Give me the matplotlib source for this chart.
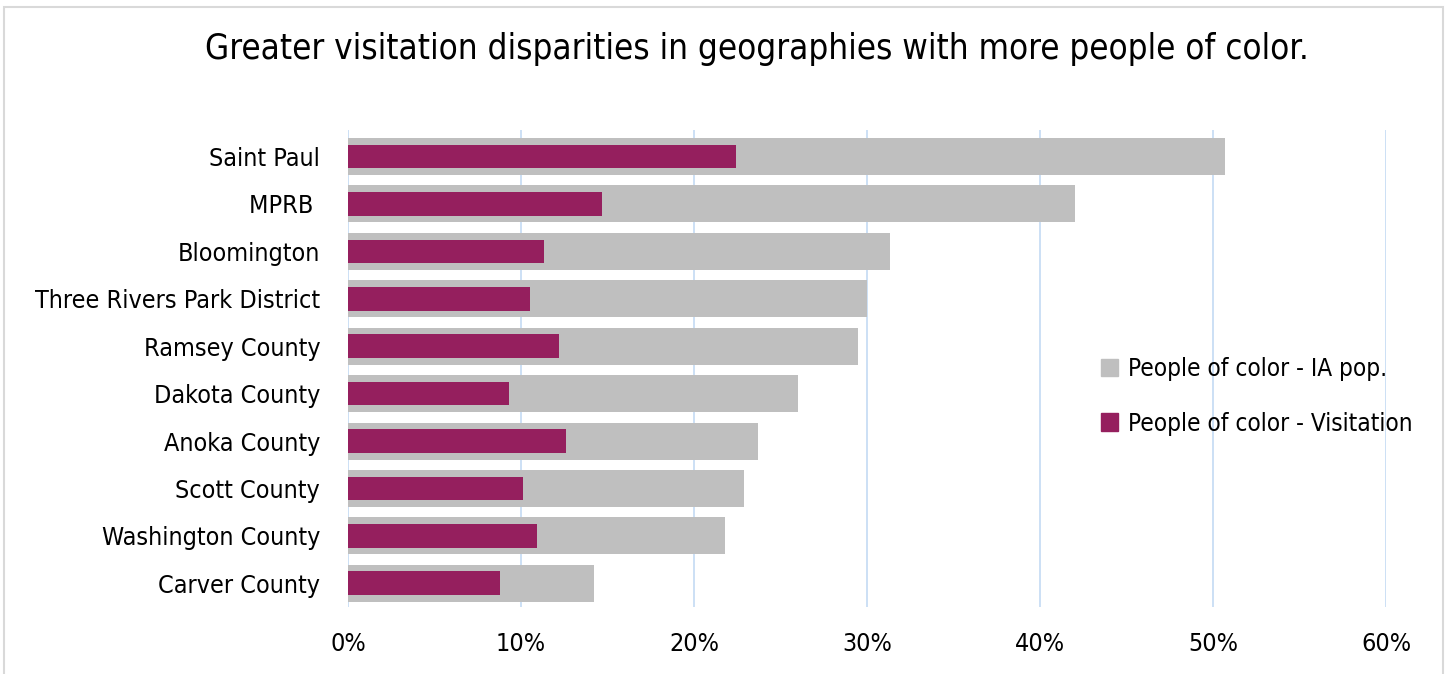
import matplotlib.pyplot as plt
from matplotlib import font_manager
from matplotlib.patches import Rectangle, Patch
from matplotlib.ticker import PercentFormatter

# categories, top to bottom
places = ['Saint Paul', 'MPRB ', 'Bloomington', 'Three Rivers Park District',
          'Ramsey County', 'Dakota County', 'Anoka County', 'Scott County',
          'Washington County', 'Carver County']
ia_pop = [50.7, 42.0, 31.3, 30.0, 29.5, 26.0, 23.7, 22.9, 21.8, 14.2]
visitation = [22.4, 14.7, 11.3, 10.5, 12.2, 9.3, 12.6, 10.1, 10.9, 8.8]

# use a condensed face if one is there
found = font_manager.findfont(font_manager.FontProperties(family='DejaVu Sans', stretch='condensed'))
plt.rcParams['font.family'] = ['DejaVu Sans']
if 'Condensed' in found:
    plt.rcParams['font.stretch'] = 'condensed'
    fs = 18
else:
    fs = 16

fig = plt.figure(figsize=(14.47, 6.74), dpi=100)
ax = fig.add_axes([0.2405, 0.0994, 0.7175, 0.707])

pos = list(range(len(places)))
ax.barh(pos, ia_pop, height=0.78, color='#BFBFBF', zorder=2)
ax.barh(pos, visitation, height=0.5, color='#951F5E', zorder=3)

ax.set_yticks(pos)
ax.set_yticklabels(places, fontsize=fs)
ax.set_ylim(len(places) - 0.5, -0.55)
ax.set_xlim(0, 60)
ax.set_xticks(range(0, 61, 10))
ax.xaxis.set_major_formatter(PercentFormatter(decimals=0))
ax.tick_params(axis='x', labelsize=fs, length=0, pad=18)
ax.tick_params(axis='y', length=0, pad=20)
ax.grid(axis='x', color='#C3DAF3', linewidth=1.2, zorder=0)
for s in ax.spines.values():
    s.set_visible(False)

fig.text(0.523, 0.928, 'Greater visitation disparities in geographies with more people of color.',
         ha='center', va='center', fontsize=fs + 7)

handles = [Patch(color='#BFBFBF', label='People of color - IA pop.'),
           Patch(color='#951F5E', label='People of color - Visitation')]
leg = fig.legend(handles=handles, loc='center left', bbox_to_anchor=(0.746, 0.412),
                 frameon=False, fontsize=fs - 0.5, handlelength=0.7, handleheight=0.7,
                 handletextpad=0.4, labelspacing=1.25)

fig.patches.append(Rectangle((0.003, -0.01), 0.994, 1.0, transform=fig.transFigure,
                             fill=False, edgecolor='#D9D9D9', linewidth=1.5))

fig.savefig('out.png', dpi=100)
